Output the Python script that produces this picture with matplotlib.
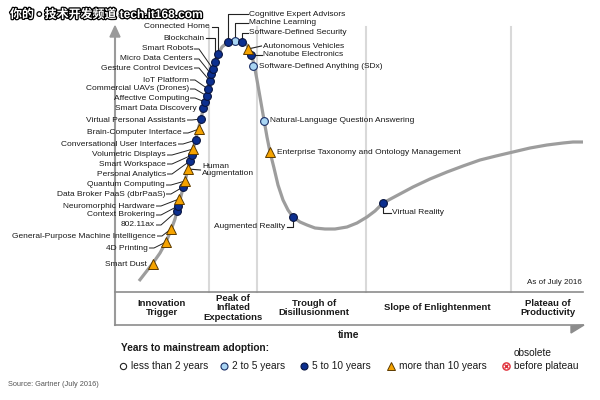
import matplotlib.pyplot as plt
from matplotlib import patheffects as pe

plt.rcParams['font.family'] = ['Liberation Sans', 'DejaVu Sans']

# hype curve (time, expectations)
curve_t = [24, 31, 38, 45, 51, 56, 60, 63, 66, 70, 73, 76, 79, 82, 86, 89, 92, 95, 98, 102,
           107, 113, 120, 127, 132, 136, 139, 142, 145, 149, 152, 155, 159, 163, 168, 173, 178,
           185, 192, 200, 210, 220, 232, 242, 252, 260, 268, 283, 298, 315, 332, 348, 365, 381,
           398, 415, 432, 448, 458, 468]
curve_e = [11, 20, 29, 39, 50, 62, 73, 85, 96, 111, 123, 134, 146, 158, 173, 187, 198, 211, 224, 236,
           245, 250, 252, 251, 247, 238, 228, 212, 195, 172, 155, 140, 124, 107, 92, 82, 75,
           70, 67, 64, 63, 63, 65, 69, 75, 81, 89, 97, 105, 113, 120, 126, 132, 136,
           140, 144, 147, 149, 150, 150]

tech_names = ["Smart Dust", "4D Printing", "General-Purpose Machine Intelligence", "802.11ax",
              "Context Brokering", "Neuromorphic Hardware", "Data Broker PaaS (dbrPaaS)",
              "Quantum Computing", "Human\nAugmentation", "Personal Analytics", "Smart Workspace",
              "Volumetric Displays", "Conversational User Interfaces", "Brain-Computer Interface",
              "Virtual Personal Assistants", "Smart Data Discovery", "Affective Computing",
              "Commercial UAVs (Drones)", "IoT Platform", "Gesture Control Devices",
              "Micro Data Centers", "Smart Robots", "Blockchain", "Connected Home",
              "Cognitive Expert Advisors", "Machine Learning", "Software-Defined Security",
              "Autonomous Vehicles", "Nanotube Electronics", "Software-Defined Anything (SDx)",
              "Natural-Language Question Answering", "Enterprise Taxonomy and Ontology Management",
              "Augmented Reality", "Virtual Reality"]
tech_t = [38, 51, 56, 62, 63, 64, 68, 70, 73, 75, 77, 78, 81, 84, 86, 88, 90, 92, 93, 95,
          96, 98, 100, 103, 113, 120, 127, 133, 136, 138, 149, 155, 178, 268]
tech_e = [28, 50, 63, 81, 86, 93, 105, 111, 123, 131, 137, 143, 152, 163, 173, 184, 190, 196, 203, 211,
          218, 223, 230, 238, 250, 251, 250, 243, 237, 226, 171, 140, 75, 89]
tech_years = [">10", ">10", ">10", "5-10", "5-10", ">10", "5-10", ">10", ">10", "5-10", "5-10",
              ">10", "5-10", ">10", "5-10", "5-10", "5-10", "5-10", "5-10", "5-10", "5-10", "5-10",
              "5-10", "5-10", "5-10", "2-5", "5-10", ">10", "5-10", "2-5", "2-5", ">10", "5-10", "5-10"]

# label placement: anchor point, alignment, leader kind
label_t = [32, 33, 41, 40, 40, 40, 50, 50, 87, 51, 51, 51, 62, 67, 71, 82, 74, 74, 74, 78,
           78, 78, 89, 95, 134, 134, 134, 148, 148, 144, 155, 162, 170, 277]
label_e = [27, 44, 56, 67, 77, 86, 98, 107, 122, 118, 128, 137, 148, 159, 172, 183, 194, 203, 212, 224,
           233, 243, 254, 265, 278, 269, 259, 246, 237, 225, 171, 140, 65, 79]
label_ha = ["right"] * 8 + ["left"] + ["right"] * 15 + ["left"] * 8 + ["right", "left"]
leader = ["none", "stub", "stub", "stub", "stub", "stub", "stub", "stub", "straight", "stub", "stub",
          "stub", "stub", "stub", "stub", "none", "stub", "stub", "stub", "stub", "stub", "stub",
          "elbow", "elbow", "elbow", "elbow", "elbow", "straight", "straight", "none", "none", "none",
          "elbow", "elbow"]

phase_names = ["Innovation\nTrigger", "Peak of\nInflated\nExpectations", "Trough of\nDisillusionment",
               "Slope of Enlightenment", "Plateau of\nProductivity"]
phase_centers = [47, 118, 199, 322, 433]
phase_edges = [94, 142, 251, 396]

legend_keys = ["<2", "2-5", "5-10", ">10"]
legend_texts = ["less than 2 years", "2 to 5 years", "5 to 10 years", "more than 10 years"]
legend_t = [8, 109, 189, 276]

styles = {
    "<2": dict(marker="o", mfc="white", mec="#222222", ms=5.0, mew=0.8),
    "2-5": dict(marker="o", mfc="#a9d5f3", mec="#1b2f66", ms=5.6, mew=0.8),
    "5-10": dict(marker="o", mfc="#0c2f8f", mec="#08143f", ms=5.6, mew=0.8),
    ">10": dict(marker="^", mfc="#f5a300", mec="#5c3a00", ms=7.0, mew=0.7),
}

fig = plt.figure(figsize=(6, 4), dpi=100)
ax = fig.add_axes([0, 0, 1, 1])
ax.set_xlim(-115, 485)
ax.set_ylim(-108, 292)
ax.axis("off")

# phase separators
for x in phase_edges:
    ax.plot([x, x], [0, 265], color="#d9d9d9", lw=1.5, zorder=1)

# axes frame
ax.plot([0, 0], [-33, 255], color="#9a9a9a", lw=1.5, zorder=2)
ax.fill([-5, 5, 0], [255, 255, 266], color="#9a9a9a", zorder=2)
ax.plot([0, 468], [0, 0], color="#8c8c8c", lw=1.2, zorder=2)
ax.plot([0, 468], [-33, -33], color="#8c8c8c", lw=1.2, zorder=2)
ax.fill([456, 469, 456], [-34, -33, -41], color="#8c8c8c", zorder=2)

# curve
ax.plot(curve_t, curve_e, color="#9d9d9d", lw=2.3, solid_capstyle="butt",
        solid_joinstyle="round", zorder=3)

# leaders + labels
for i, name in enumerate(tech_names):
    mt, me = tech_t[i], tech_e[i]
    lt, le = label_t[i], label_e[i]
    kind = leader[i]
    if kind == "stub":
        ax.plot([lt + 1.5, lt + 6, mt], [le, le, me], color="#222222", lw=0.7, zorder=4)
    elif kind == "elbow":
        sx = lt + 1.5 if label_ha[i] == "right" else lt - 1.5
        ax.plot([sx, mt, mt], [le, le, me], color="#222222", lw=0.8, zorder=4)
    elif kind == "straight":
        ax.plot([mt, lt - 1.5], [me, le], color="#222222", lw=0.8, zorder=4)
    ax.text(lt, le, name, ha=label_ha[i], va="center", fontsize=6.0, color="#1a1a1a",
            linespacing=1.05, zorder=6)

for y in set(tech_years):
    idx = [i for i, v in enumerate(tech_years) if v == y]
    ax.plot([tech_t[i] for i in idx], [tech_e[i] for i in idx], ls="none", zorder=5, **styles[y])

# phases
for name, c in zip(phase_names, phase_centers):
    ax.text(c, -16, name, ha="center", va="center", fontsize=6.8, fontweight="bold",
            color="#1a1a1a", linespacing=1.1)

ax.text(467, 9, "As of July 2016", ha="right", va="center", fontsize=5.8, color="#1a1a1a")
ax.text(234, -43, "time", ha="center", va="center", fontsize=7.5, fontweight="bold", color="#1a1a1a")
ax.text(3, 276, "expectations", ha="left", va="center", fontsize=6.3, color="#333333")

# legend
ax.text(6, -56, "Years to mainstream adoption:", ha="left", va="center", fontsize=7.3,
        fontweight="bold", color="#1a1a1a")
for k, txt, x in zip(legend_keys, legend_texts, legend_t):
    st = dict(styles[k])
    st["ms"] = st["ms"] * 0.9
    ax.plot([x], [-74], ls="none", zorder=5, **st)
    ax.text(x + 8, -74, txt, ha="left", va="center", fontsize=7.3, color="#1a1a1a")
ax.plot([391], [-74], marker="o", mfc="white", mec="#e0303a", ms=5.2, mew=1.0, ls="none")
ax.plot([391], [-74], marker="x", color="#e0303a", ms=2.8, mew=1.0, ls="none")
ax.text(399, -74, "before plateau", ha="left", va="center", fontsize=7.3, color="#1a1a1a")
ax.text(399, -61, "obsolete", ha="left", va="center", fontsize=7.3, color="#1a1a1a")

ax.text(-107, -93, "Source: Gartner (July 2016)", ha="left", va="center", fontsize=5.3, color="#555555")

# site watermark
ax.text(-105, 277, "你的 • 技术开发频道 tech.it168.com", ha="left", va="center", fontsize=8.6,
        fontweight="bold", color="white", family=["Liberation Sans", "Noto Sans CJK SC"], zorder=8,
        path_effects=[pe.Stroke(linewidth=1.8, foreground="black"), pe.Normal()])

fig.savefig("out.png", dpi=100)
